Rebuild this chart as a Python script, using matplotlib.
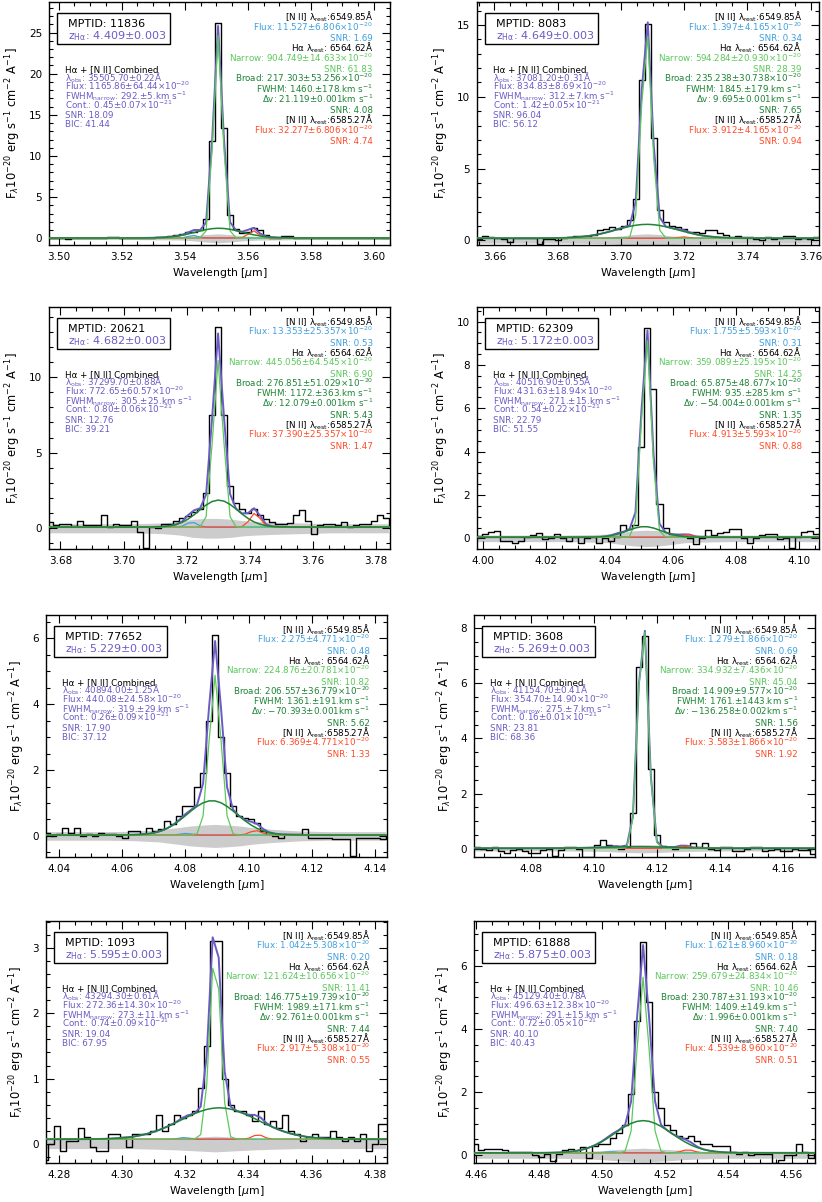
import numpy as np
import matplotlib
matplotlib.use('Agg')
import matplotlib.pyplot as plt
from matplotlib.patches import Rectangle
from matplotlib.ticker import MultipleLocator, FormatStrFormatter

plt.rcParams['font.family'] = ['DejaVu Sans']
plt.rcParams['mathtext.fontset'] = 'dejavusans'

# ---- fit results, one entry per object ----
mptid = ['11836', '8083', '20621', '62309', '77652', '3608', '1093', '61888']
z_ha = ['4.409', '4.649', '4.682', '5.172', '5.229', '5.269', '5.595', '5.875']
lam_obs = [35505.70, 37081.20, 37299.70, 40516.90, 40894.00, 41154.70, 43294.30, 45129.40]
lam_obs_err = ['0.22', '0.31', '0.88', '0.55', '1.25', '0.41', '0.61', '0.78']
comb_flux = ['1165.86±64.44', '834.83±8.69', '772.65±60.57', '431.63±18.94',
             '440.08±24.58', '354.70±14.90', '272.36±14.30', '496.63±12.38']
fwhm_narrow = [292, 312, 305, 271, 319, 275, 273, 291]
fwhm_narrow_err = [5, 7, 25, 15, 29, 7, 11, 15]
cont = [0.45, 1.42, 0.80, 0.54, 0.26, 0.16, 0.74, 0.72]
cont_err = ['0.07', '0.05', '0.06', '0.22', '0.09', '0.01', '0.09', '0.05']
snr_comb = ['18.09', '96.04', '12.76', '22.79', '17.90', '23.81', '19.04', '40.10']
bic = ['41.44', '56.12', '39.21', '51.55', '37.12', '68.36', '67.95', '40.43']

n2a_flux = [11.527, 1.397, 13.353, 1.755, 2.275, 1.279, 1.042, 1.621]
n2_err = ['6.806', '4.165', '25.357', '5.593', '4.771', '1.866', '5.308', '8.960']
n2a_snr = ['1.69', '0.34', '0.53', '0.31', '0.48', '0.69', '0.20', '0.18']
narrow_flux = [904.749, 594.284, 445.056, 359.089, 224.876, 334.932, 121.624, 259.679]
narrow_err = ['14.633', '20.930', '64.545', '25.195', '20.781', '7.436', '10.656', '24.834']
narrow_snr = ['61.83', '28.39', '6.90', '14.25', '10.82', '45.04', '11.41', '10.46']
broad_flux = [217.303, 235.238, 276.851, 65.875, 206.557, 14.909, 146.775, 230.787]
broad_err = ['53.256', '30.738', '51.029', '48.677', '36.779', '9.577', '19.739', '31.193']
broad_fwhm = [1460, 1845, 1172, 935, 1361, 1761, 1989, 1409]
broad_fwhm_err = [178, 179, 363, 285, 191, 1443, 171, 149]
broad_dv = [21.119, 9.695, 12.079, -54.004, -70.393, -136.258, 92.761, 1.996]
broad_dv_err = ['0.001', '0.001', '0.001', '0.001', '0.001', '0.002', '0.001', '0.001']
broad_snr = ['4.08', '7.65', '5.43', '1.35', '5.62', '1.56', '7.44', '7.40']
n2b_flux = [32.277, 3.912, 37.390, 4.913, 6.369, 3.583, 2.917, 4.539]
n2b_snr = ['4.74', '0.94', '1.47', '0.88', '1.33', '1.92', '0.55', '0.51']

# ---- binned spectra (1e-20 erg/s/cm2/A), bins k=-29..29 around the line ----
flux_11836 = [0.0, 0.05, 0.0, 0.02, -0.03, 0.0, 0.05, 0.0, -0.02, 0.03, 0.05,
              0.2, 0.2, 0.05, 0.0, 0.05, 0.0, 0.05, 0.02, 0.15, 0.2, 0.3, 0.4, 0.5, 0.8, 0.8, 1.0, 2.3, 11.8,
              26.1,
              13.4, 2.8, 1.1, 0.7, 0.8, 1.2, 1.0, 0.4, 0.1, 0.05, 0.25, 0.25, 0.05,
              0.0, 0.03, -0.02, 0.0, 0.05, 0.0, 0.02, 0.05, 0.0, -0.02, 0.0, 0.03, 0.0, 0.05, 0.0, 0.02]
flux_8083 = [0.1, 0.1, 0.3, 0.2, 0.15, 0.1, -0.1, 0.15, 0.15, 0.15, 0.15, -0.25, 0.1, 0.1, 0.0,
             0.15, 0.2, 0.3, 0.3, 0.3, 0.4, 0.7, 0.8, 0.9, 0.8, 1.0, 1.4, 2.9, 11.2,
             15.1,
             7.1, 2.1, 1.3, 1.0, 0.9, 0.8, 0.6, 0.6, 0.5, 0.7, 0.7, 0.5, 0.4, 0.2, 0.3,
             0.2, 0.2, 0.1, 0.0, 0.2, 0.1, 0.15, 0.3, 0.3, 0.1, 0.15, 0.1, 0.2, 0.15]
flux_20621 = [0.4, 0.4, 0.2, 0.25, 0.3, 0.15, 0.45, 0.2, 0.2, 0.2, 0.85, 0.1, 0.3, 0.2, 0.2,
              0.45, -0.25, -1.3, 0.1, 0.0, 0.3, 0.3, 0.5, 0.7, 0.8, 1.1, 1.3, 2.3, 7.5,
              13.3,
              7.5, 2.8, 1.7, 1.3, 1.0, 1.3, 0.9, 0.6, 0.4, 0.3, 0.3, 0.35, 0.9, 1.2, 0.5,
              -0.35, 0.2, 0.3, 0.3, 0.2, 0.4, 0.1, 0.2, 0.3, 0.3, 0.5, 0.85, 0.7, 0.0]
flux_62309 = [-0.3, 0.1, 0.2, 0.3, 0.35, -0.1, -0.1, -0.2, -0.1, 0.05, 0.15, 0.25, -0.05, 0.0, 0.2,
              0.0, -0.1, 0.05, -0.2, 0.0, 0.05, -0.2, 0.0, -0.1, 0.05, 0.6, 0.45, 0.6, 4.2,
              9.7,
              6.9, 1.6, 0.5, 0.2, 0.2, 0.1, 0.0, -0.25, 0.0, 0.4, 0.15, 0.25, 0.3, 0.45, 0.45,
              0.0, -0.2, 0.0, 0.15, 0.2, 0.2, -0.05, 0.0, -0.45, 0.05, 0.3, 0.35, 0.2, 0.2]
flux_77652 = [0.3, 0.1, 0.0, 0.05, 0.25, 0.1, 0.25, 0.0, 0.05, 0.0, 0.1, 0.05, 0.05, 0.0, -0.05,
              0.15, 0.15, 0.05, 0.25, 0.15, 0.2, 0.45, 0.35, 0.6, 0.9, 0.9, 1.5, 1.9, 3.5,
              6.1,
              3.0, 1.9, 0.9, 0.6, 0.55, 0.5, 0.4, 0.15, 0.05, 0.0, -0.05, 0.05, 0.05, 0.05, 0.2,
              -0.05, -0.05, -0.05, -0.05, -0.1, -0.1, -0.1, -0.6, -0.05, -0.05, -0.05, -0.05, -0.1, 0.0]
flux_3608 = [0.05, 0.05, 0.0, -0.05, 0.05, -0.1, -0.15, -0.05, 0.0, -0.1, -0.15, -0.15, -0.05, 0.0, -0.25,
             -0.05, 0.05, 0.07, 0.0, -0.3, -0.3, 0.15, 0.3, 0.15, 0.1, 0.0, 0.05, 1.3, 6.6,
             7.7,
             2.9, 0.5, 0.1, 0.05, 0.0, 0.05, 0.1, 0.2, 0.05, 0.2, 0.0, -0.05, 0.05, 0.05, -0.1,
             -0.1, 0.0, 0.05, 0.05, -0.1, -0.05, 0.0, -0.1, -0.1, 0.0, -0.05, -0.05, -0.2, 0.0]
flux_1093 = [-0.25, -0.25, 0.0, 0.27, -0.1, 0.05, 0.05, 0.25, 0.1, -0.05, -0.1, -0.1, 0.15, 0.15, 0.1,
             -0.05, 0.15, 0.15, 0.15, 0.2, 0.45, 0.2, 0.3, 0.45, 0.4, 0.45, 0.5, 0.85, 1.5,
             3.1,
             3.1, 1.0, 0.6, 0.5, 0.5, 0.45, 0.35, 0.5, 0.3, 0.35, 0.25, 0.45, 0.2, 0.15, 0.05,
             0.1, 0.15, 0.1, 0.1, 0.2, 0.1, 0.05, 0.1, 0.05, 0.15, -0.1, 0.0, 0.3, 0.3]
flux_61888 = [0.35, 0.35, 0.15, 0.2, 0.2, 0.2, 0.15, 0.1, 0.1, 0.1, 0.1, 0.0, -0.05, 0.05, -0.2,
              0.05, 0.15, 0.2, 0.1, 0.25, -0.1, 0.3, 0.35, 0.35, 0.55, 0.7, 0.95, 1.95, 4.25,
              6.75,
              4.85, 2.0, 1.5, 0.95, 0.8, 0.6, 0.55, 0.6, 0.45, 0.35, 0.35, 0.3, 0.3, 0.3, 0.1,
              0.05, 0.1, 0.0, 0.05, 0.05, 0.05, -0.25, -0.15, 0.0, 0.0, 0.35, 0.1, -0.1, 0.05]
spectra = [flux_11836, flux_8083, flux_20621, flux_62309, flux_77652, flux_3608, flux_1093, flux_61888]
bin_shift = [0, 0.2, 0, 0.15, 0, 0.3, -0.4, 0]   # grid phase relative to the line centre, in bins
bin_step = 0.0019   # micron

# 1-sigma error band, sampled at offsets (micron) from the line centre
band_off = [-0.054, -0.045, -0.036, -0.027, -0.018, -0.012, -0.008, -0.004, 0.0,
            0.004, 0.008, 0.012, 0.018, 0.027, 0.036, 0.045, 0.054]
band_err = [
    [0.15, 0.15, 0.15, 0.15, 0.18, 0.2, 0.3, 0.45, 0.55, 0.45, 0.3, 0.22, 0.2, 0.15, 0.15, 0.15, 0.15],
    [0.2, 0.2, 0.2, 0.2, 0.22, 0.25, 0.3, 0.4, 0.45, 0.4, 0.3, 0.25, 0.22, 0.2, 0.2, 0.2, 0.2],
    [0.3, 0.3, 0.3, 0.3, 0.35, 0.45, 0.6, 0.65, 0.65, 0.6, 0.5, 0.45, 0.4, 0.35, 0.3, 0.3, 0.3],
    [0.15, 0.15, 0.15, 0.15, 0.17, 0.2, 0.28, 0.35, 0.38, 0.35, 0.28, 0.2, 0.17, 0.15, 0.15, 0.15, 0.15],
    [0.13, 0.13, 0.13, 0.14, 0.18, 0.25, 0.3, 0.33, 0.35, 0.33, 0.3, 0.25, 0.2, 0.15, 0.13, 0.13, 0.13],
    [0.08, 0.08, 0.08, 0.08, 0.09, 0.1, 0.12, 0.14, 0.15, 0.14, 0.12, 0.1, 0.09, 0.08, 0.08, 0.08, 0.08],
    [0.07, 0.07, 0.07, 0.07, 0.08, 0.09, 0.1, 0.11, 0.12, 0.11, 0.1, 0.09, 0.08, 0.07, 0.07, 0.07, 0.07],
    [0.1, 0.1, 0.1, 0.1, 0.12, 0.15, 0.18, 0.2, 0.22, 0.2, 0.18, 0.15, 0.12, 0.1, 0.1, 0.1, 0.1],
]

ymin = [-0.81, -0.33, -1.37, -0.49, -0.64, -0.30, -0.29, -0.25]
ymajor = [5, 5, 5, 2, 2, 2, 1, 2]
yminor = [1, 1, 1, 0.5, 0.5, 0.5, 0.2, 0.5]

C_KMS = 299792.458
HA, N2A, N2B = 0.656462, 0.654985, 0.658527

PURPLE = '#6a5cc4'
LBLUE = '#3f9fe0'
LGREEN = '#5cc85c'
DGREEN = '#1f8436'
RED = '#ff4a26'


def gauss(x, flux, center, fwhm_kms):
    sig = fwhm_kms / C_KMS * center / 2.3548
    amp = flux / (sig * 1e4 * np.sqrt(2 * np.pi))
    return amp * np.exp(-0.5 * ((x - center) / sig) ** 2)


W, H = 822, 1202
frames = [(49, 2, 390, 245), (477, 2, 819, 245),
          (49, 307, 390, 549), (477, 307, 819, 549),
          (46, 615, 387, 857), (474, 615, 815, 857),
          (46, 921, 387, 1163), (474, 921, 815, 1163)]

fig = plt.figure(figsize=(W / 100, H / 100), dpi=100)
FS = 6.3

for i in range(8):
    x0, y0, x1, y1 = frames[i]
    ax = fig.add_axes([x0 / W, 1 - y1 / H, (x1 - x0) / W, (y1 - y0) / H])

    lam = lam_obs[i] / 1e4
    flux = np.array(spectra[i])
    wave = lam + (np.arange(-29, 30) + bin_shift[i]) * bin_step
    c0 = cont[i] * 0.1
    onepz = lam / HA

    g_n = gauss(wave, narrow_flux[i], lam, fwhm_narrow[i])
    g_b = gauss(wave, broad_flux[i], lam * (1 + broad_dv[i] / C_KMS), broad_fwhm[i])
    g_a = gauss(wave, n2a_flux[i], N2A * onepz, fwhm_narrow[i])
    g_r = gauss(wave, n2b_flux[i], N2B * onepz, fwhm_narrow[i])

    bx = lam + np.array(band_off)
    be = np.array(band_err[i])
    ax.fill_between(bx, -be, be, color='#cccccc', lw=0, zorder=1)
    ax.step(wave, flux, where='mid', color='k', lw=1.0, zorder=2)
    ax.plot(wave, c0 + g_n + g_b + g_a + g_r, color=PURPLE, lw=1.4, zorder=3)
    ax.plot(wave, c0 + g_a, color=LBLUE, lw=0.9, zorder=4)
    ax.plot(wave, c0 + g_r, color=RED, lw=0.9, zorder=4)
    ax.plot(wave, c0 + g_n, color=LGREEN, lw=0.9, zorder=5)
    ax.plot(wave, c0 + g_b, color=DGREEN, lw=1.1, zorder=6)

    ax.set_xlim(lam - 0.0536, lam + 0.0545)
    ax.set_ylim(ymin[i], 1.1 * flux.max())
    ax.xaxis.set_major_locator(MultipleLocator(0.02))
    ax.xaxis.set_minor_locator(MultipleLocator(0.005))
    ax.xaxis.set_major_formatter(FormatStrFormatter('%.2f'))
    ax.yaxis.set_major_locator(MultipleLocator(ymajor[i]))
    ax.yaxis.set_minor_locator(MultipleLocator(yminor[i]))
    ax.tick_params(which='both', direction='in', top=True, right=True, labelsize=7.5, width=0.8)
    ax.tick_params(which='major', length=6, pad=5)
    ax.tick_params(which='minor', length=3)
    for s in ax.spines.values():
        s.set_linewidth(1.0)
    ax.set_xlabel(r'Wavelength [$\mu$m]', fontsize=7.8, labelpad=3)
    ax.set_ylabel(r'F$_\lambda$10$^{-20}$ erg s$^{-1}$ cm$^{-2}$ A$^{-1}$]', fontsize=8.3, labelpad=4)

    # ID box
    ax.add_patch(Rectangle((0.023, 0.827), 0.331, 0.128, transform=ax.transAxes,
                           fill=False, lw=1.0, ec='k', zorder=8))
    ax.text(0.056, 0.897, f'MPTID: {mptid[i]}', transform=ax.transAxes, fontsize=8,
            va='baseline', zorder=9)
    ax.text(0.056, 0.848, r'z$_{\rm H\alpha}$: ' + f'{z_ha[i]}±0.003', transform=ax.transAxes,
            fontsize=8, color=PURPLE, va='baseline', zorder=9)

    # combined fit block
    left = [
        ('Hα + [N II] Combined', 'k'),
        (r'λ$_{\rm obs}$: ' + f'{lam_obs[i]:.2f}±{lam_obs_err[i]}Å', PURPLE),
        (f'Flux: {comb_flux[i]}×10' + r'$^{-20}$', PURPLE),
        (r'FWHM$_{\rm narrow}$: ' + f'{fwhm_narrow[i]}.±{fwhm_narrow_err[i]}.km s' + r'$^{-1}$', PURPLE),
        (f'Cont.: {cont[i]:.2f}±{cont_err[i]}×10' + r'$^{-21}$', PURPLE),
        (f'SNR: {snr_comb[i]}', PURPLE),
        (f'BIC: {bic[i]}', PURPLE),
    ]
    for j, (s, c) in enumerate(left):
        ax.text(0.047, 0.712 - j * 0.038, s, transform=ax.transAxes, fontsize=FS,
                color=c, va='baseline', zorder=9)

    # component block
    dv = f'{broad_dv[i]:.3f}'.replace('-', '−')
    right = [
        (r'[N II] λ$_{\rm rest}$:6549.85Å', 'k'),
        (f'Flux: {n2a_flux[i]:.3f}±{n2_err[i]}×10' + r'$^{-20}$', LBLUE),
        (f'SNR: {n2a_snr[i]}', LBLUE),
        (r'Hα λ$_{\rm rest}$: 6564.62Å', 'k'),
        (f'Narrow: {narrow_flux[i]:.3f}±{narrow_err[i]}×10' + r'$^{-20}$', LGREEN),
        (f'SNR: {narrow_snr[i]}', LGREEN),
        (f'Broad: {broad_flux[i]:.3f}±{broad_err[i]}×10' + r'$^{-20}$', DGREEN),
        (f'FWHM: {broad_fwhm[i]}.±{broad_fwhm_err[i]}.km s' + r'$^{-1}$', DGREEN),
        (f'Δv: {dv}±{broad_dv_err[i]}km s' + r'$^{-1}$', DGREEN),
        (f'SNR: {broad_snr[i]}', DGREEN),
        (r'[N II] λ$_{\rm rest}$:6585.27Å', 'k'),
        (f'Flux: {n2b_flux[i]:.3f}±{n2_err[i]}×10' + r'$^{-20}$', RED),
        (f'SNR: {n2b_snr[i]}', RED),
    ]
    for j, (s, c) in enumerate(right):
        ax.text(0.95, 0.925 - j * 0.0425, s, transform=ax.transAxes, fontsize=FS,
                color=c, ha='right', va='baseline', zorder=9)

fig.savefig('out.png', dpi=100)
